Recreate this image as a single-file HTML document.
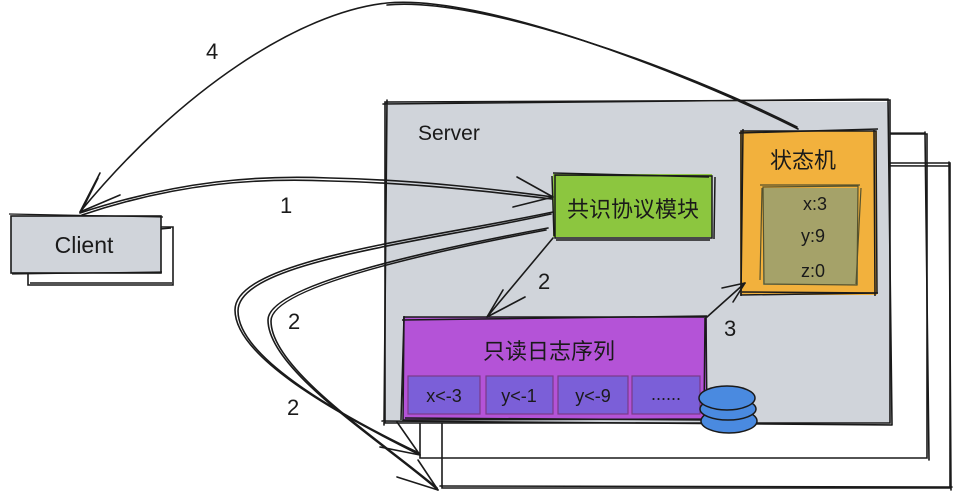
<!DOCTYPE html>
<html><head><meta charset="utf-8"><style>
html,body{margin:0;padding:0;background:#fff;}
svg{display:block;}
text{font-family:"Liberation Sans","Noto Sans CJK SC",sans-serif;fill:#1a1a1a;}
</style></head><body>
<svg width="960" height="496" viewBox="0 0 960 496" xmlns="http://www.w3.org/2000/svg">
<g fill="none" stroke="#1a1a1a" stroke-width="1.6" stroke-linecap="round">
  <!-- back rectangles -->
  <path d="M442,163 L950,163 L950,488 L442,488 Z"/>
  <path d="M440,165 L948,166 M949,162 L951,490 M440,486 L952,487"/>
  <path d="M420,134 L927,134 L927,458 L420,458 Z"/>
  <path d="M422,136 L925,133 M925,132 L929,460"/>
</g>
<!-- server -->
<rect x="385" y="102" width="505" height="321" fill="#d0d4da"/>
<g fill="none" stroke="#1a1a1a" stroke-width="1.6" stroke-linecap="round">
  <path d="M385,102 L890,100 L890,423 L385,423 Z"/>
  <path d="M383,104 L888,99 M888,99 L892,425 M382,421 L892,425 M387,100 L384,425"/>
</g>
<text x="418" y="140" font-size="21">Server</text>

<!-- client -->
<g fill="none" stroke="#1a1a1a" stroke-width="1.6">
  <path d="M160,227 L173,227 L173,285 L28,285 L28,273"/>
  <path d="M160,229 L171,228 M30,283 L172,283"/>
</g>
<rect x="11" y="216" width="150" height="57" fill="#d0d4da" stroke="#1a1a1a" stroke-width="1.6"/>
<path d="M9,214 L163,217 M12,274 L162,272" stroke="#1a1a1a" stroke-width="1.2" fill="none"/>
<text x="84" y="253" font-size="23" text-anchor="middle">Client</text>

<!-- green box -->
<rect x="553" y="174" width="159" height="63" fill="#8cc63f"/>
<g fill="none" stroke="#1a1a1a" stroke-width="1.5">
  <path d="M555,175 L712,176 L712,238 L555,238 Z"/>
  <path d="M553,173 L709,177 M715,177 L714,239 M556,240 L710,240 M552,176 L554,236"/>
</g>
<text x="633" y="217" font-size="22" text-anchor="middle">共识协议模块</text>

<!-- orange box -->
<rect x="740" y="131" width="137" height="164" fill="#f2b13d"/>
<g fill="none" stroke="#1a1a1a" stroke-width="1.5">
  <path d="M741,131 L876,131 L877,293 L741,295 Z"/>
  <path d="M739,133 L878,129 M874,130 L875,296 M742,292 L878,293 M743,129 L741,296"/>
</g>
<text x="803" y="168" font-size="22" text-anchor="middle">状态机</text>
<rect x="763" y="188" width="95" height="97" fill="#a5a269"/>
<g fill="none" stroke="#55522e" stroke-width="1.2">
  <path d="M763,187 L858,186 L857,285 L764,284 Z"/>
  <path d="M760,185 L860,185 M861,188 L856,284 M762,188 L760,280"/>
</g>
<text x="815" y="210" font-size="18" text-anchor="middle">x:3</text>
<text x="813" y="242" font-size="18" text-anchor="middle">y:9</text>
<text x="813" y="277" font-size="18" text-anchor="middle">z:0</text>

<!-- purple box -->
<rect x="403" y="317" width="304" height="103" fill="#b453d7"/>
<g fill="none" stroke="#1a1a1a" stroke-width="1.5">
  <path d="M404,317 L706,317 L707,419 L403,420 Z"/>
  <path d="M402,320 L707,316 M705,318 L704,418 M405,418 L707,420 M404,316 L401,420"/>
</g>
<text x="549" y="359" font-size="22" text-anchor="middle">只读日志序列</text>
<g stroke="#7a3a8a" stroke-width="1.2" fill="#7b5fd8">
  <rect x="408" y="376" width="72" height="38"/>
  <rect x="486" y="376" width="67" height="38"/>
  <rect x="558" y="376" width="70" height="38"/>
  <rect x="632" y="376" width="68" height="38"/>
</g>
<text x="444" y="402" font-size="18" text-anchor="middle">x&lt;-3</text>
<text x="519" y="402" font-size="18" text-anchor="middle">y&lt;-1</text>
<text x="593" y="402" font-size="18" text-anchor="middle">y&lt;-9</text>
<text x="666" y="400" font-size="18" text-anchor="middle">......</text>

<!-- disks -->
<g stroke="#1a1a1a" stroke-width="1.5" fill="#4a8ae0">
  <ellipse cx="729" cy="421" rx="28" ry="12"/>
  <ellipse cx="728" cy="409" rx="28" ry="11"/>
  <ellipse cx="727" cy="398" rx="28" ry="12"/>
</g>

<!-- arrows -->
<g fill="none" stroke="#1a1a1a" stroke-width="1.6" stroke-linecap="round">
  <!-- 4 -->
  <path d="M798,129 C680,70 480,-6 387,3 C300,12 180,90 80,212"/>
  <path d="M797,127 C680,68 480,-4 387,5"/>
  <path d="M80,212 L100,173 M80,212 L120,195 M82,210 L98,178"/>
  <!-- 1 -->
  <path d="M80,213 C180,180 260,175 330,178 C420,180 500,190 553,197"/>
  <path d="M82,215 C180,182 260,178 330,181 C420,183 500,193 552,199"/>
  <path d="M553,197 L517,177 M553,197 L513,207"/>
  <!-- 2 down -->
  <path d="M553,238 L487,317"/>
  <path d="M487,317 L503,290 M487,317 L525,297"/>
  <!-- 2 curves -->
  <path d="M553,212 C420,240 235,260 235,310 C235,360 350,420 420,455"/>
  <path d="M551,214 C420,243 238,262 238,311 C238,360 352,421 419,453"/>
  <path d="M548,228 C430,250 268,285 268,320 C268,370 380,440 438,490"/>
  <path d="M546,230 C430,252 271,287 271,321 C271,370 382,441 437,488"/>
  <path d="M420,455 L380,447 M420,455 L397,422"/>
  <path d="M438,490 L397,477 M438,490 L418,460"/>
  <!-- 3 -->
  <path d="M707,317 L745,283"/>
  <path d="M745,283 L722,288 M745,283 L733,302"/>
</g>
<g font-size="22">
  <text x="206" y="59">4</text>
  <text x="280" y="213">1</text>
  <text x="538" y="289">2</text>
  <text x="288" y="329">2</text>
  <text x="287" y="415">2</text>
  <text x="724" y="336">3</text>
</g>
</svg>
</body></html>
